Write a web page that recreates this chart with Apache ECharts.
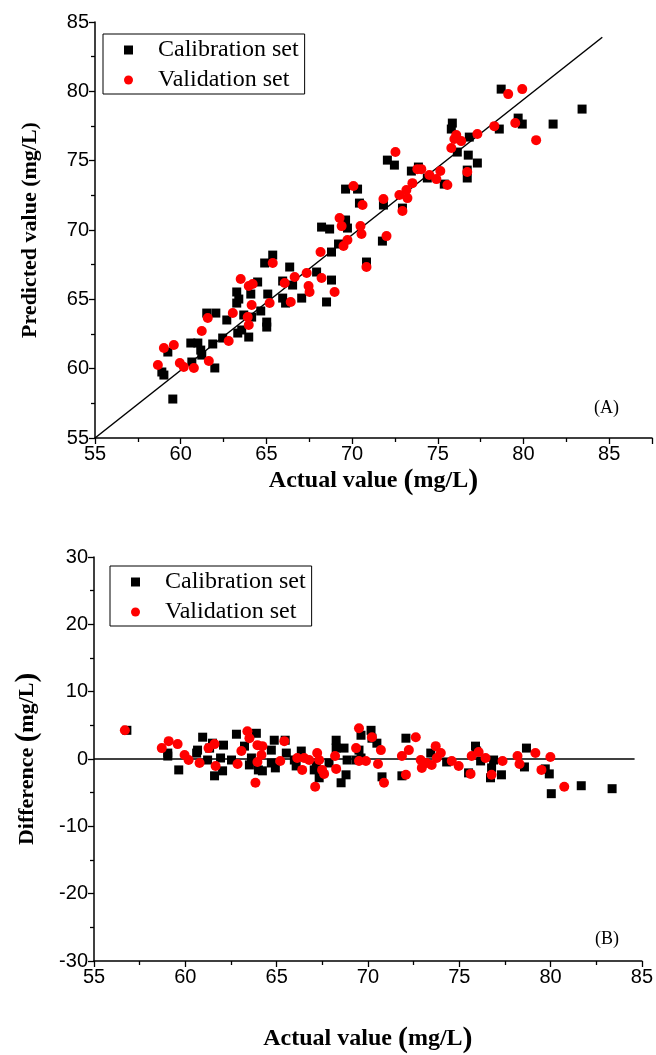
<!DOCTYPE html>
<html>
<head>
<meta charset="utf-8">
<script src="https://cdn.jsdelivr.net/npm/echarts@6/dist/echarts.min.js"></script>
<style>
html,body{margin:0;padding:0;background:#fff;}
#chart{width:656px;height:1055px;}
</style>
</head>
<body>
<div id="chart"></div>
<script>
// ---- Panel A: actual vs predicted ----
const calActualA = [65.37,64.90,64.49,63.27,64.09,63.39,63.27,65.08,64.67,61.52,62.05,62.69,64.14,63.68,65.02,65.02,62.45,63.33,63.56,63.97,60.59,61.00,61.87,61.17,61.23,59.25,60.65,61.99,58.90,59.02,59.54,75.85,75.79,76.14,72.06,72.47,73.46,73.87,74.39,75.38,69.62,70.32,70.43,71.83,72.94,69.62,69.73,68.22,68.69,69.21,71.77,68.80,70.84,66.36,65.95,66.53,67.93,68.80,65.95,66.12,67.06,68.51,78.70,83.42,79.69,79.93,81.73,78.59,76.84,76.78,77.31,76.72,76.72];
const calPredA   = [68.19,67.62,66.25,65.53,65.38,65.02,64.73,65.38,64.16,64.01,64.01,63.51,63.72,63.87,63.36,63.00,62.21,62.57,62.79,62.28,61.85,61.85,61.78,61.34,60.98,61.20,60.48,60.05,59.76,59.54,57.81,77.71,77.28,75.62,75.04,74.68,74.25,74.54,73.75,73.31,72.95,72.95,71.94,71.80,71.58,70.72,70.14,70.21,70.07,68.99,69.20,68.41,67.69,67.33,66.32,66.03,66.97,66.39,65.09,64.73,65.09,64.81,80.16,78.72,78.07,77.64,77.64,77.28,76.70,75.40,74.83,74.32,73.75];
const valActualA = [65.37,63.50,63.97,64.20,64.14,63.04,61.58,63.91,63.97,61.23,62.80,59.02,59.60,58.67,59.95,60.18,60.77,61.64,65.19,72.53,73.81,74.04,74.51,75.15,74.92,75.56,73.52,73.17,72.76,73.23,70.08,70.61,71.83,72.94,69.27,69.39,70.49,70.55,69.73,69.50,68.16,72.01,70.84,67.35,68.22,66.65,66.07,67.46,67.52,68.98,66.42,76.08,75.97,75.79,79.11,79.93,78.30,79.52,80.74,77.31,76.37,76.72];
const valPredA   = [67.62,66.46,65.96,66.10,64.59,64.01,63.65,63.72,63.15,62.71,61.99,61.49,61.71,60.26,60.41,60.12,60.05,60.55,64.73,75.62,74.39,74.39,73.96,74.25,73.67,73.24,73.38,72.88,72.52,72.30,73.17,71.80,72.23,71.37,70.86,70.28,70.28,69.71,69.28,68.84,68.41,69.56,67.33,66.90,66.54,66.61,66.18,65.96,65.53,65.53,64.81,76.85,76.56,75.91,79.80,80.16,77.49,77.71,76.48,76.92,76.41,74.18];
const idealLineA = [[55,55],[84.6,83.9]];

// ---- Panel B: actual vs difference ----
const calActualB = [56.80,59.04,59.04,59.64,60.95,60.67,60.62,61.33,61.49,62.09,61.93,61.22,61.60,62.04,62.80,63.89,63.24,63.62,63.51,64.00,62.53,64.71,64.71,64.87,65.47,64.93,65.53,65.97,66.07,66.35,67.06,67.33,67.17,68.26,68.26,68.69,67.87,68.86,68.80,68.53,69.62,70.17,70.22,69.51,69.62,70.49,70.77,72.08,71.86,73.44,64.22,69.35,74.31,75.89,75.95,75.51,76.17,76.88,76.77,76.71,77.31,78.68,78.57,79.71,79.93,80.04,81.68,83.37];
const calDiffB   = [4.26,0.88,0.44,-1.62,3.24,1.32,0.88,1.62,2.35,2.06,0.15,-0.15,-2.50,-1.76,3.68,3.82,1.91,0.15,-0.88,-1.62,-0.15,1.32,-0.59,2.79,2.79,-1.32,0.88,-0.15,-1.03,1.18,-1.62,-2.79,-0.88,2.79,1.62,1.62,-0.59,-0.15,-2.35,-3.53,3.53,4.26,3.09,1.32,0.15,2.35,-2.65,3.09,-2.50,0.88,-1.76,-0.15,-0.44,1.91,1.18,-2.06,-0.29,-0.15,-1.32,-2.79,-2.35,1.62,-1.18,-1.47,-2.21,-5.15,-3.97,-4.41];
const valActualB = [56.69,58.71,59.09,59.58,59.96,60.18,60.78,61.27,61.60,61.66,62.86,63.07,63.40,63.51,63.95,64.22,64.17,63.95,63.84,65.42,65.20,66.40,66.13,66.51,66.78,67.22,67.33,67.49,67.60,67.11,68.20,68.26,69.35,69.51,70.22,70.71,69.51,69.89,70.55,70.88,71.86,72.08,72.24,72.62,72.89,72.95,73.71,73.99,73.77,73.22,73.49,74.59,74.97,75.62,75.68,76.06,76.44,76.77,77.37,78.19,78.30,79.17,79.50,79.99,80.75];
const valDiffB   = [4.26,1.62,2.65,2.21,0.59,-0.15,-0.59,1.62,2.21,-1.03,-0.74,1.18,4.12,3.09,2.06,1.91,0.59,-0.44,-3.53,2.65,-0.29,-1.62,0.15,0.15,-0.15,0.88,-0.15,-1.62,-2.21,-4.12,0.44,-1.47,1.62,4.56,3.24,1.32,-0.29,-0.29,-0.74,-3.53,0.44,-2.35,1.32,3.24,-0.15,-1.32,1.91,0.88,0.15,-0.59,-0.88,-0.29,-1.03,-2.21,0.44,1.03,0.15,-2.35,-0.29,0.44,-0.74,0.88,-1.62,0.29,-4.12];
const zeroLineB = [[55,0],[84.6,0]];

const seriesNames = ['Calibration set','Validation set'];
const xTicksA = [55,87.5,5];
const yTicksA = [55,85,5];
const xTicksB = [55,85,5];
const yTicksB = [-30,30,10];

const zip = (a,b) => a.map((v,i)=>[v,b[i]]);
const SERIF = 'Liberation Serif, Times New Roman, serif';
const LBL = {color:'#000', fontFamily:'Liberation Sans, Arial, sans-serif', fontSize:20};
const NAME = {color:'#000', fontFamily:SERIF, fontWeight:'bold', fontSize:22,
  rich:{p:{fontFamily:SERIF, fontWeight:'bold', fontSize:29, color:'#000'}}};
const NAMEX = {color:'#000', fontFamily:SERIF, fontWeight:'bold', fontSize:24,
  rich:{p:{fontFamily:SERIF, fontWeight:'bold', fontSize:30, color:'#000'}}};
const LINE = {show:true, onZero:false, lineStyle:{color:'#000', width:1.5}};
const TICK = {show:true, inside:false, length:6, lineStyle:{color:'#000', width:1.3}};
const MINOR = {show:true, splitNumber:2, length:4, lineStyle:{color:'#000', width:1.3}};

function axis(t, gridIndex, name, nameGap, nameStyle){
  return {
    type:'value', gridIndex, min:t[0], max:t[1], interval:t[2],
    name, nameLocation:'middle', nameGap, nameTextStyle:nameStyle,
    axisLine:LINE, axisTick:TICK, minorTick:MINOR,
    splitLine:{show:false}, minorSplitLine:{show:false},
    axisLabel:Object.assign({margin:6, formatter:v => (v % t[2] === 0 ? String(v) : '')}, LBL)
  };
}

function legendAt(left, top){
  return {
    left, top, orient:'vertical', borderColor:'#000', borderWidth:1, backgroundColor:'#fff',
    padding:[4,6,2,21], itemWidth:9, itemHeight:9, itemGap:6,
    textStyle:{color:'#000', fontFamily:SERIF, fontSize:24, padding:[0,0,0,20]},
    data:[{name:seriesNames[0], icon:'rect'},{name:seriesNames[1], icon:'circle'}]
  };
}

const chart = echarts.init(document.getElementById('chart'), null, {renderer:'canvas'});
chart.setOption({
  animation:false,
  backgroundColor:'#fff',
  grid:[
    {left:95, top:22, width:557, height:416},
    {left:94, top:557, width:550, height:408}
  ],
  xAxis:[
    axis(xTicksA, 0, 'Actual value {p|(}mg/L{p|)}', 28, NAMEX),
    axis(xTicksB, 1, 'Actual value {p|(}mg/L{p|)}', 63, NAMEX)
  ],
  yAxis:[
    axis(yTicksA, 0, 'Predicted value (mg/L)', 54, NAME),
    axis(yTicksB, 1, 'Difference {p|(}mg/L{p|)}', 52, NAME)
  ],
  legend:[ legendAt(103, 34), legendAt(110, 566) ],
  graphic:[
    {type:'text', left:594, top:399, style:{text:'(A)', fill:'#000', font:'18px "Liberation Serif", serif'}},
    {type:'text', left:595, top:930, style:{text:'(B)', fill:'#000', font:'18px "Liberation Serif", serif'}}
  ],
  series:[
    {type:'line', xAxisIndex:0, yAxisIndex:0, data:idealLineA, symbol:'none', lineStyle:{color:'#000', width:1.5}, silent:true, z:1},
    {type:'line', xAxisIndex:1, yAxisIndex:1, data:zeroLineB, symbol:'none', lineStyle:{color:'#000', width:1.5}, silent:true, z:1},
    {name:seriesNames[0], type:'scatter', xAxisIndex:0, yAxisIndex:0, symbol:'rect', symbolSize:9, itemStyle:{color:'#000', opacity:1}, data:zip(calActualA, calPredA), z:2},
    {name:seriesNames[0], type:'scatter', xAxisIndex:1, yAxisIndex:1, symbol:'rect', symbolSize:9, itemStyle:{color:'#000', opacity:1}, data:zip(calActualB, calDiffB), z:2},
    {name:seriesNames[1], type:'scatter', xAxisIndex:0, yAxisIndex:0, symbol:'circle', symbolSize:10, itemStyle:{color:'#ff0000', opacity:1}, data:zip(valActualA, valPredA), z:3},
    {name:seriesNames[1], type:'scatter', xAxisIndex:1, yAxisIndex:1, symbol:'circle', symbolSize:10, itemStyle:{color:'#ff0000', opacity:1}, data:zip(valActualB, valDiffB), z:3}
  ]
});
</script>
</body>
</html>
